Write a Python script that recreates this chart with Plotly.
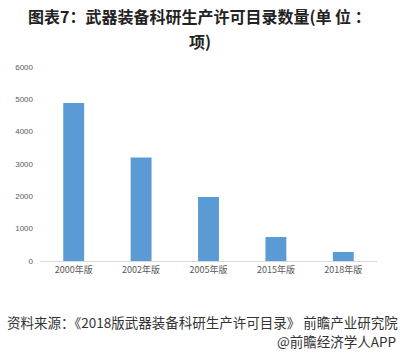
import plotly.graph_objects as go

categories = ["2000年版", "2002年版", "2005年版", "2015年版", "2018年版"]
values = [4890, 3200, 1980, 742, 278]
y_ticks = [0, 1000, 2000, 3000, 4000, 5000, 6000]

title_line1 = "图表7：武器装备科研生产许可目录数量(单 位 ："
title_line2 = "项)"
source_line1 = "资料来源：《2018版武器装备科研生产许可目录》 前瞻产业研究院"
source_line2 = "@前瞻经济学人APP"

fig = go.Figure()
fig.add_trace(go.Bar(x=categories, y=values, marker=dict(color="#5b9bd5", line=dict(width=0))))

cjk = "Noto Sans CJK SC"
fig.update_layout(
    width=400, height=354,
    margin=dict(l=40, r=23, t=67, b=93),
    paper_bgcolor="white", plot_bgcolor="white",
    bargap=0.69,
    showlegend=False,
    xaxis=dict(showline=True, linecolor="#d9d9d9", linewidth=1, ticks="",
               tickfont=dict(family=cjk, size=9, color="#595959"), showgrid=False),
    yaxis=dict(range=[0, 6000], tickvals=y_ticks, showgrid=False, zeroline=False,
               showline=False, ticks="", tickfont=dict(family="Liberation Sans", size=8, color="#595959"),
               ticklabelstandoff=6),
    annotations=[
        dict(text="<b>" + title_line1 + "</b>", xref="paper", yref="paper", x=0.5, y=1.0,
             xanchor="center", yanchor="middle", yshift=51, xshift=-9, showarrow=False,
             font=dict(family=cjk, size=16, color="#222222")),
        dict(text="<b>" + title_line2 + "</b>", xref="paper", yref="paper", x=0.5, y=1.0,
             xanchor="center", yanchor="middle", yshift=26, xshift=-9, showarrow=False,
             font=dict(family=cjk, size=16, color="#222222")),
        dict(text=source_line1, xref="paper", yref="paper", x=0.5, y=0,
             xanchor="center", yanchor="middle", yshift=-61, xshift=-6, showarrow=False,
             font=dict(family=cjk, size=13.5, color="#333333")),
        dict(text=source_line2, xref="paper", yref="paper", x=1.0, y=0,
             xanchor="right", yanchor="middle", yshift=-80, xshift=21, showarrow=False,
             font=dict(family=cjk, size=13.5, color="#333333")),
    ],
)

fig.write_html("out.html")
